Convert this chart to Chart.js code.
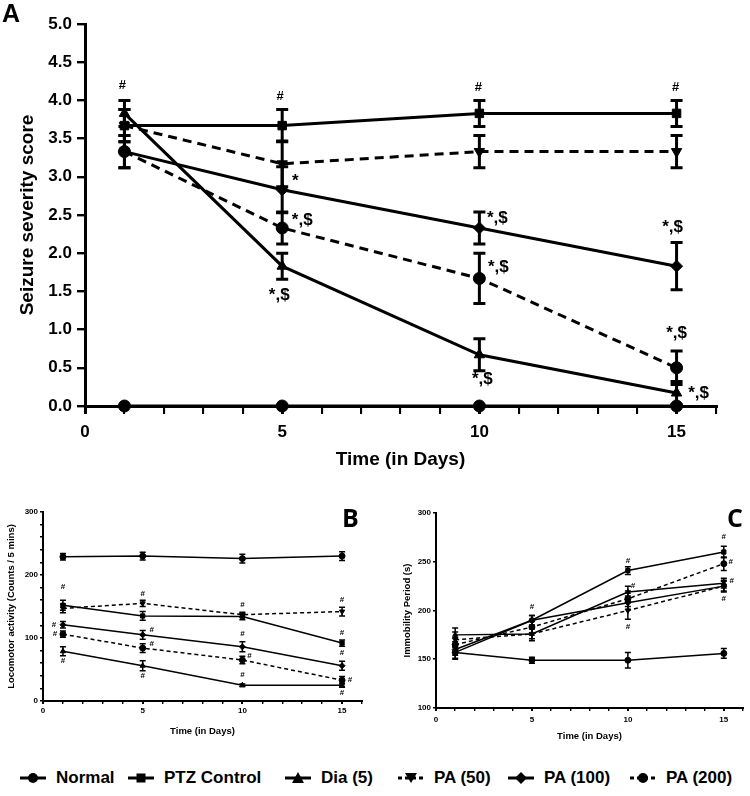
<!DOCTYPE html>
<html>
<head>
<meta charset="utf-8">
<script src="https://cdn.jsdelivr.net/npm/chart.js@4.4.1/dist/chart.umd.min.js"></script>
<style>
  body { margin: 0; background: #fff; width: 750px; height: 796px; position: relative; overflow: hidden;
         font-family: 'Liberation Sans', Arial, sans-serif; color: #000; }
  canvas { position: absolute; }
  #chartA { left: 0; top: 0; }
  #chartB { left: 0; top: 480px; }
  #chartC { left: 375px; top: 480px; }
  .tag { position: absolute; font-weight: bold; line-height: 1; }
  #tagA { left: 2px; top: 1px; font-size: 25px; }
  #tagB { left: 342px; top: 505px; font-size: 25px; font-family: 'Open Sans', sans-serif; }
  #tagC { left: 727px; top: 505px; font-size: 25px; font-family: 'Open Sans', sans-serif; }
  .leg { position: absolute; top: 768px; height: 20px; display: flex; align-items: center;
         font-weight: bold; font-size: 17px; white-space: nowrap; }
  .leg svg { margin-right: 10px; }
</style>
</head>
<body>
<canvas id="chartA" width="750" height="480"></canvas>
<canvas id="chartB" width="375" height="270"></canvas>
<canvas id="chartC" width="375" height="270"></canvas>
<div class="tag" id="tagA">A</div>
<div class="tag" id="tagB">B</div>
<div class="tag" id="tagC">C</div>
<div id="legend"></div>
<script>
const DAYS = [1, 5, 10, 15];
const GROUPS = ['Normal', 'PTZ Control', 'Dia (5)', 'PA (50)', 'PA (100)', 'PA (200)'];

// A - seizure severity score, one row per group (same order as GROUPS)
const seizureMean = [
  [0, 0, 0, 0],
  [3.67, 3.67, 3.83, 3.83],
  [3.83, 1.83, 0.67, 0.17],
  [3.67, 3.17, 3.33, 3.33],
  [3.33, 2.83, 2.33, 1.83],
  [3.33, 2.33, 1.67, 0.5],
];
const seizureErr = [
  [0, 0, 0, 0],
  [0.21, 0.21, 0.17, 0.17],
  [0.17, 0.17, 0.21, 0.15],
  [0.21, 0.3, 0.21, 0.21],
  [0.21, 0.3, 0.21, 0.31],
  [0.21, 0.21, 0.33, 0.22],
];

// B - locomotor activity (counts / 5 mins)
const locoMean = [
  [229, 230, 226, 230],
  [152, 135, 134, 92],
  [79, 56, 25, 25],
  [147, 155, 137, 142],
  [121, 105, 86, 56],
  [106, 84, 65, 33],
];
const locoErr = [
  [5, 6, 7, 7],
  [8, 7, 5, 5],
  [7, 8, 2, 3],
  [7, 5, 4, 7],
  [5, 7, 8, 7],
  [5, 7, 6, 6],
];

// C - immobility period (s)
const immobMean = [
  [157, 149, 149, 156],
  [157, 190, 241, 260],
  [175, 176, 219, 228],
  [170, 176, 200, 225],
  [160, 190, 208, 225],
  [165, 183, 212, 248],
];
const immobErr = [
  [7, 3, 8, 5],
  [6, 5, 4, 6],
  [7, 5, 6, 5],
  [8, 7, 9, 6],
  [6, 5, 7, 5],
  [7, 6, 8, 7],
];

// significance marks: [group, point, text]
const seizureMarks = [
  [1, 0, '#'], [1, 1, '#'], [1, 2, '#'], [1, 3, '#'],
  [4, 1, '*'], [5, 1, '*,$'], [2, 1, '*,$'],
  [4, 2, '*,$'], [5, 2, '*,$'], [2, 2, '*,$'],
  [4, 3, '*,$'], [5, 3, '*,$'], [2, 3, '*,$'],
];
const locoMarks = [
  [1, 0, '#'], [4, 0, '#'], [5, 0, '#'], [2, 0, '#'],
  [3, 1, '#'], [4, 1, '#'], [5, 1, '#'], [2, 1, '#'],
  [1, 2, '#'], [4, 2, '#'], [5, 2, '#'], [2, 2, '#'],
  [3, 3, '#'], [1, 3, '#'], [1, 3, '#'], [5, 3, '#'], [2, 3, '#'],
];
const immobMarks = [
  [1, 1, '#'], [1, 2, '#'], [2, 2, '#'], [3, 2, '#'],
  [1, 3, '#'], [5, 3, '#'], [2, 3, '#'], [3, 3, '#'],
];
// pixel offsets for the marks above (same order)
const seizureOffs = [[-2, -40], [-2, -29], [-1, -26], [-1, -26], [13, -8], [20, -8], [-3, 29],
  [18, -10], [19, -11], [3, 25], [-4, -39], [0, -34], [22, 0]];
const locoOffs = [[0, -18], [-9, 0], [-8, 0], [0, 10], [0, -10], [9, -5], [9, -4], [0, 10],
  [0, -12], [0, -13], [7, -4], [0, -10], [0, -12], [0, -10], [0, 10], [8, 0], [0, 8]];
const immobOffs = [[0, -13], [0, -10], [5, -6], [0, 16], [0, -15], [7, -2], [8, -2], [0, 13]];

const SERIES_STYLE = [
  { point: 'circle', dash: false, rot: 0 },
  { point: 'rect', dash: false, rot: 0 },
  { point: 'triangle', dash: false, rot: 0 },
  { point: 'triangle', dash: true, rot: 180 },
  { point: 'rectRot', dash: false, rot: 0 },
  { point: 'circle', dash: true, rot: 0 },
];

const FONT = "'Liberation Sans', Arial, sans-serif";

const errorBars = {
  id: 'errorBars',
  afterDatasetsDraw(chart, args, opts) {
    const { ctx, scales: { x, y } } = chart;
    ctx.save();
    ctx.strokeStyle = '#000';
    ctx.lineWidth = opts.width;
    ctx.setLineDash([]);
    chart.data.datasets.forEach(ds => {
      ds.data.forEach((p, i) => {
        const e = ds.err[i];
        if (!e) return;
        const px = x.getPixelForValue(p.x);
        const top = y.getPixelForValue(p.y + e);
        const bot = y.getPixelForValue(p.y - e);
        ctx.beginPath();
        ctx.moveTo(px, top); ctx.lineTo(px, bot);
        ctx.moveTo(px - opts.cap, top); ctx.lineTo(px + opts.cap, top);
        ctx.moveTo(px - opts.cap, bot); ctx.lineTo(px + opts.cap, bot);
        ctx.stroke();
      });
    });
    ctx.restore();
  }
};

const sigMarks = {
  id: 'sigMarks',
  afterDatasetsDraw(chart, args, opts) {
    const { ctx, scales: { x, y } } = chart;
    ctx.save();
    ctx.fillStyle = '#000';
    ctx.textAlign = 'center';
    ctx.textBaseline = 'middle';
    opts.marks.forEach(([s, i, t], k) => {
      const p = chart.data.datasets[s].data[i];
      const [dx, dy] = opts.offs[k];
      ctx.font = `bold ${t === '#' ? opts.hash : opts.star}px ${FONT}`;
      ctx.fillText(t, x.getPixelForValue(p.x) + dx, y.getPixelForValue(p.y) + dy);
    });
    ctx.restore();
  }
};

function buildDatasets(means, errs, sz) {
  return GROUPS.map((g, s) => ({
    label: g,
    data: DAYS.map((d, i) => ({ x: d, y: means[s][i] })),
    err: errs[s],
    borderColor: '#000',
    backgroundColor: '#000',
    borderWidth: sz.line,
    borderDash: SERIES_STYLE[s].dash ? sz.dash : [],
    pointStyle: SERIES_STYLE[s].point,
    pointRotation: SERIES_STYLE[s].rot,
    pointRadius: sz.radius,
    pointBorderWidth: 1,
    tension: 0,
    clip: false,
  }));
}

function makeChart(id, cfg) {
  const axisColor = '#000';
  return new Chart(document.getElementById(id), {
    type: 'line',
    data: { datasets: buildDatasets(cfg.means, cfg.errs, cfg.sz) },
    plugins: [errorBars, sigMarks],
    options: {
      responsive: false,
      animation: false,
      events: [],
      layout: { padding: cfg.padding },
      plugins: {
        legend: { display: false },
        tooltip: { enabled: false },
        errorBars: cfg.bars,
        sigMarks: { marks: cfg.marks, offs: cfg.offs, hash: cfg.hash, star: cfg.star },
      },
      scales: {
        x: {
          type: 'linear', min: 0, max: 16,
          afterFit: s => { s.height = cfg.xHeight; },
          ticks: {
            stepSize: 1, autoSkip: false, maxRotation: 0, color: '#000', padding: cfg.xTickPad,
            font: { family: FONT, size: cfg.tickSize, weight: 'bold' },
            callback: v => (v % 5 === 0 && v < 16 ? String(v) : ''),
          },
          grid: {
            drawOnChartArea: false, drawTicks: true, color: axisColor, tickLength: cfg.tickLen,
            lineWidth: c => (c.tick && c.tick.value % 5 === 0 ? cfg.axisW : cfg.axisW * 0.7),
          },
          border: { color: axisColor, width: cfg.axisW },
          title: {
            display: true, text: 'Time (in Days)', color: '#000', padding: cfg.titlePad,
            font: { family: FONT, size: cfg.titleSize, weight: 'bold' },
          },
        },
        y: {
          type: 'linear', min: cfg.yMin, max: cfg.yMax,
          afterFit: s => { s.width = cfg.yWidth; },
          ticks: {
            stepSize: cfg.yStep, autoSkip: false, color: '#000', padding: cfg.yTickPad,
            font: { family: FONT, size: cfg.tickSize, weight: 'bold' },
            callback: cfg.yLabel,
          },
          grid: {
            drawOnChartArea: false, drawTicks: true, color: axisColor, tickLength: cfg.tickLen,
            lineWidth: cfg.axisW * 0.8,
          },
          border: { color: axisColor, width: cfg.axisW },
          title: {
            display: true, text: cfg.yTitle, color: '#000', padding: cfg.titlePad,
            font: { family: FONT, size: cfg.titleSize, weight: 'bold' },
          },
        },
      },
    },
  });
}

makeChart('chartA', {
  means: seizureMean, errs: seizureErr,
  sz: { line: 3, dash: [9, 6], radius: 6 },
  bars: { width: 3, cap: 6 },
  marks: seizureMarks, offs: seizureOffs, hash: 13, star: 17,
  padding: { left: 12, right: 34, top: 24, bottom: 5 },
  xHeight: 69, yWidth: 73, tickLen: 8, axisW: 3,
  xTickPad: 8, yTickPad: 5, titlePad: 4,
  tickSize: 17, titleSize: 19,
  yMin: 0, yMax: 5, yStep: 0.5,
  yLabel: v => v.toFixed(1),
  yTitle: 'Seizure severity score',
});

makeChart('chartB', {
  means: locoMean, errs: locoErr,
  sz: { line: 1.5, dash: [4, 3], radius: 3 },
  bars: { width: 1.5, cap: 3 },
  marks: locoMarks, offs: locoOffs, hash: 8, star: 8,
  padding: { left: 5, right: 13, top: 32, bottom: 12 },
  xHeight: 37, yWidth: 38, tickLen: 3, axisW: 2,
  xTickPad: 2, yTickPad: 2, titlePad: 1,
  tickSize: 8, titleSize: 9.5,
  yMin: 0, yMax: 300, yStep: 20,
  yLabel: v => (v % 100 === 0 ? String(v) : ''),
  yTitle: 'Locomotor activity (Counts / 5 mins)',
});

makeChart('chartC', {
  means: immobMean, errs: immobErr,
  sz: { line: 1.5, dash: [4, 3], radius: 3 },
  bars: { width: 1.5, cap: 3 },
  marks: immobMarks, offs: immobOffs, hash: 8, star: 8,
  padding: { left: 26, right: 7, top: 33, bottom: 7 },
  xHeight: 35, yWidth: 35, tickLen: 3, axisW: 2,
  xTickPad: 4, yTickPad: 2, titlePad: 1,
  tickSize: 8, titleSize: 9.5,
  yMin: 100, yMax: 300, yStep: 50,
  yLabel: v => String(v),
  yTitle: 'Immobility Period (s)',
});

// legend, built from the same groups / styles
function markerSvg(st) {
  const dash = st.dash ? 'stroke-dasharray="4 3"' : '';
  let shape;
  if (st.point === 'circle') shape = '<circle cx="13" cy="8" r="5"/>';
  else if (st.point === 'rect') shape = '<rect x="8.5" y="3.5" width="9" height="9"/>';
  else if (st.point === 'rectRot') shape = '<polygon points="13,2 19,8 13,14 7,8"/>';
  else if (st.rot === 180) shape = '<polygon points="7,3 19,3 13,13"/>';
  else shape = '<polygon points="13,2 19,13 7,13"/>';
  return `<svg width="26" height="16"><line x1="0" y1="8" x2="26" y2="8" stroke="#000" stroke-width="3" ${dash}/>` +
    `<g fill="#000">${shape}</g></svg>`;
}
const legendX = [20, 128, 285, 398, 508, 630];
const legend = document.getElementById('legend');
GROUPS.forEach((g, s) => {
  const item = document.createElement('div');
  item.className = 'leg';
  item.style.left = legendX[s] + 'px';
  item.innerHTML = markerSvg(SERIES_STYLE[s]) + `<span>${g}</span>`;
  legend.appendChild(item);
});
</script>
</body>
</html>
